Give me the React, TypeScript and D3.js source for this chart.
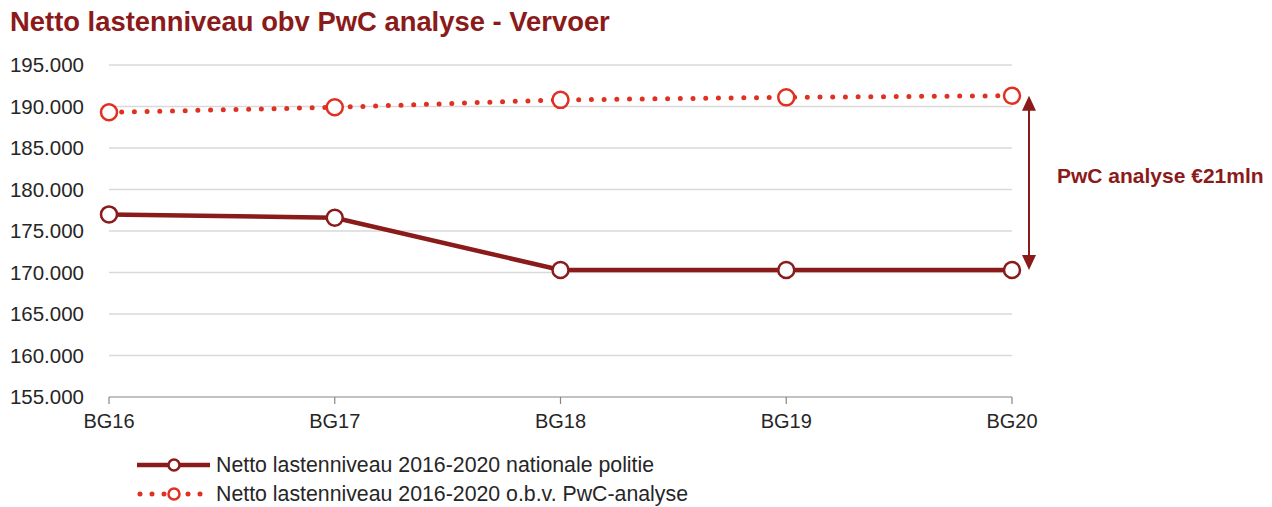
import React from "react";
import * as d3 from "d3";

const categories = ["BG16", "BG17", "BG18", "BG19", "BG20"];
const nationalePolitie = [177000, 176600, 170300, 170300, 170300];
const pwcAnalyse = [189300, 189900, 190800, 191100, 191300];
const yTicks = [155000, 160000, 165000, 170000, 175000, 180000, 185000, 190000, 195000];
const seriesNames = [
  "Netto lastenniveau 2016-2020 nationale politie",
  "Netto lastenniveau 2016-2020 o.b.v. PwC-analyse",
];
const title = "Netto lastenniveau obv PwC analyse - Vervoer";
const annotation = "PwC analyse €21mln";

const W = 1272;
const H = 507;
const DARK = "#8B1A1A";
const RED = "#E03020";
const FONT = "'Liberation Sans', Arial, sans-serif";

export default function App() {
  const x = d3.scalePoint<string>().domain(categories).range([109, 1012]);
  const y = d3.scaleLinear().domain([155000, 195000]).range([397, 65]);
  const tickLabel = (v: number) => {
    const s = String(v);
    return s.slice(0, s.length - 3) + "." + s.slice(s.length - 3);
  };
  const line = d3
    .line<number>()
    .x((_, i) => x(categories[i]) as number)
    .y((d) => y(d));

  const arrowX = 1029;
  const yTop = y(pwcAnalyse[4]);
  const yBot = y(nationalePolitie[4]);

  return (
    <svg width={W} height={H} style={{ position: "absolute", left: 0, top: 0, background: "#fff" }} fontFamily={FONT}>
      <text x={10} y={31} fill={DARK} fontSize={27.4} fontWeight="bold">
        {title}
      </text>
      {yTicks.map((t) => (
        <g key={t}>
          {t !== 155000 && (
            <line x1={109} x2={1012} y1={y(t)} y2={y(t)} stroke="#D9D9D9" strokeWidth={1.3} />
          )}
          <text x={84} y={y(t) + 7} textAnchor="end" fontSize={20.5} fill="#262626">
            {tickLabel(t)}
          </text>
        </g>
      ))}
      <line x1={109} x2={1012} y1={y(155000)} y2={y(155000)} stroke="#868686" strokeWidth={1.2} />
      {categories.map((c) => (
        <g key={c}>
          <line x1={x(c)} x2={x(c)} y1={y(155000)} y2={y(155000) + 7} stroke="#868686" strokeWidth={1.2} />
          <text x={x(c)} y={428} textAnchor="middle" fontSize={20} fill="#262626">
            {c}
          </text>
        </g>
      ))}
      <path
        d={line(pwcAnalyse) || ""}
        fill="none"
        stroke={RED}
        strokeWidth={5}
        strokeLinecap="round"
        strokeDasharray="0 12.7"
      />
      <path d={line(nationalePolitie) || ""} fill="none" stroke={DARK} strokeWidth={4.5} />
      {pwcAnalyse.map((v, i) => (
        <circle key={"p" + i} cx={x(categories[i])} cy={y(v)} r={8} fill="#fff" stroke={RED} strokeWidth={2.5} />
      ))}
      {nationalePolitie.map((v, i) => (
        <circle key={"n" + i} cx={x(categories[i])} cy={y(v)} r={8} fill="#fff" stroke={DARK} strokeWidth={2.5} />
      ))}
      <line x1={arrowX} x2={arrowX} y1={yTop + 12} y2={yBot - 12} stroke={DARK} strokeWidth={2} />
      <path d={`M${arrowX - 7},${yTop + 15} L${arrowX},${yTop} L${arrowX + 7},${yTop + 15} Z`} fill={DARK} />
      <path d={`M${arrowX - 7},${yBot - 15} L${arrowX},${yBot} L${arrowX + 7},${yBot - 15} Z`} fill={DARK} />
      <text x={1057} y={183} fill={DARK} fontSize={21} fontWeight="bold">
        {annotation}
      </text>
      <g>
        <line x1={137} x2={210} y1={465} y2={465} stroke={DARK} strokeWidth={4.5} />
        <circle cx={174} cy={465} r={5.5} fill="#fff" stroke={DARK} strokeWidth={2.5} />
        <text x={216} y={472} fontSize={21.3} fill="#262626">
          {seriesNames[0]}
        </text>
        <line
          x1={140}
          x2={210}
          y1={494}
          y2={494}
          stroke={RED}
          strokeWidth={5}
          strokeLinecap="round"
          strokeDasharray="0 12"
        />
        <circle cx={174} cy={494} r={5.5} fill="#fff" stroke={RED} strokeWidth={2.5} />
        <text x={216} y={501} fontSize={21.3} fill="#262626">
          {seriesNames[1]}
        </text>
      </g>
    </svg>
  );
}
